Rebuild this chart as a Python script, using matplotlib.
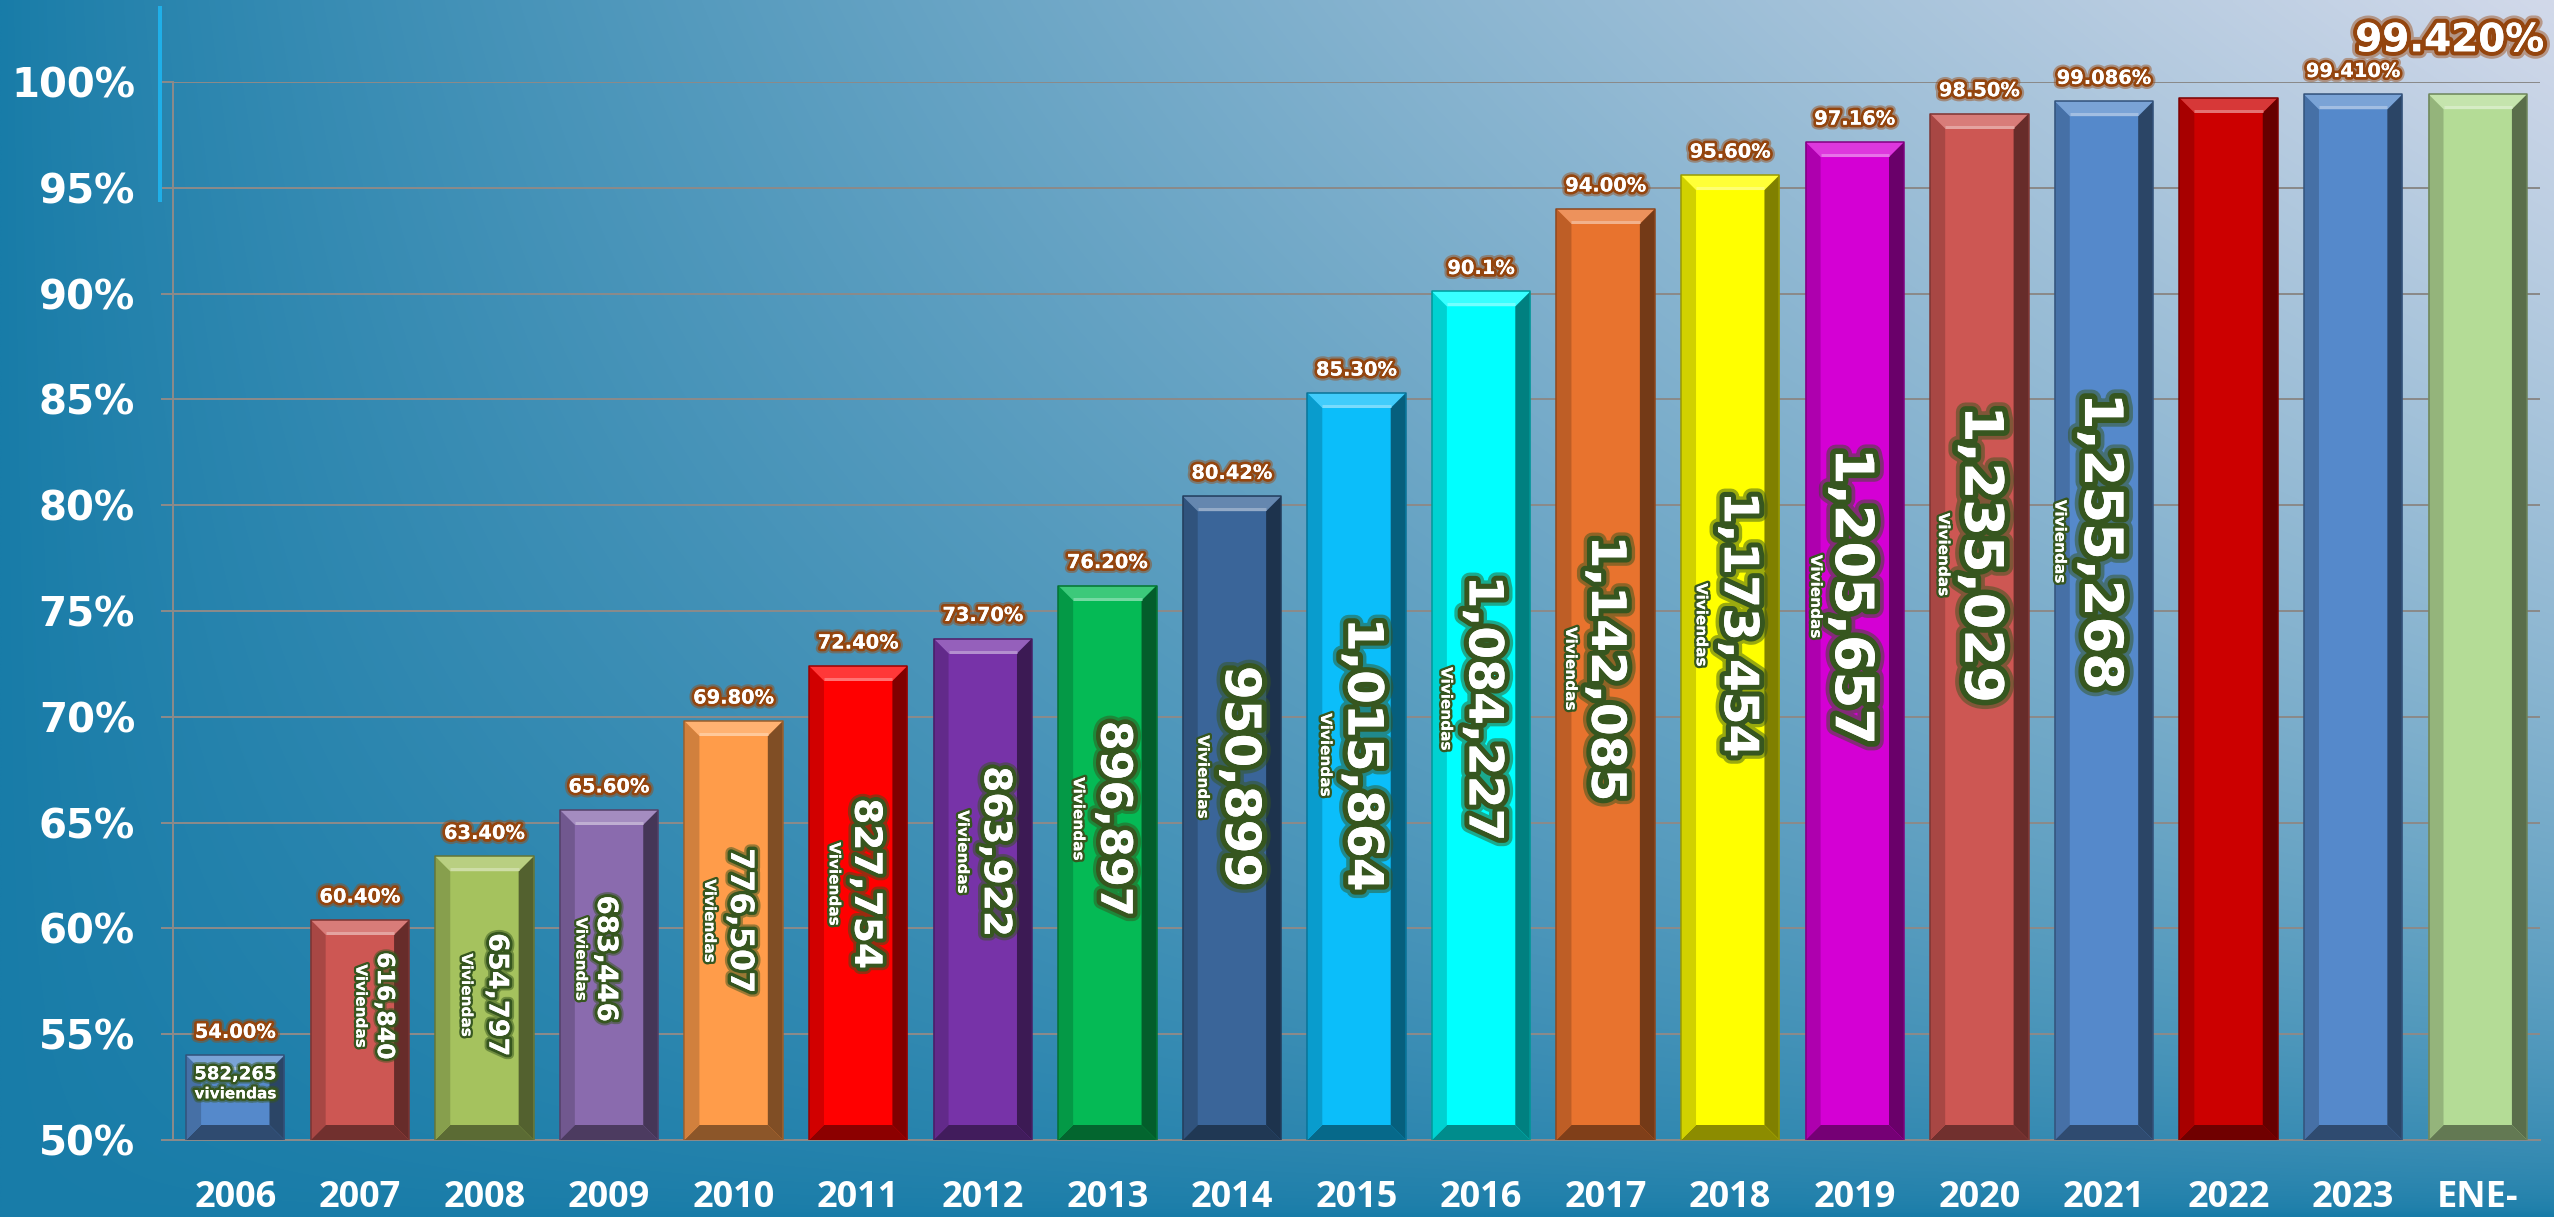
import numpy as np
import matplotlib
matplotlib.use('Agg')
import matplotlib.pyplot as plt
import matplotlib.patheffects as pe
from matplotlib.patches import Polygon
from matplotlib.lines import Line2D
from matplotlib.colors import to_rgb

# ---------------- data ----------------
categories = ['2006', '2007', '2008', '2009', '2010', '2011', '2012', '2013', '2014',
              '2015', '2016', '2017', '2018', '2019', '2020', '2021', '2022', '2023', 'ENE-']
coverage = [54.00, 60.40, 63.40, 65.60, 69.80, 72.40, 73.70, 76.20, 80.42,
            85.30, 90.10, 94.00, 95.60, 97.16, 98.50, 99.086, 99.25, 99.41, 99.42]
pct_labels = ['54.00%', '60.40%', '63.40%', '65.60%', '69.80%', '72.40%', '73.70%', '76.20%',
              '80.42%', '85.30%', '90.1%', '94.00%', '95.60%', '97.16%', '98.50%', '99.086%',
              '', '99.410%', '99.420%']
viviendas = [582265, 616840, 654797, 683446, 776507, 827754, 863922, 896897, 950899,
             1015864, 1084227, 1142085, 1173454, 1205657, 1235029, 1255268, None, None, None]
bar_colors = ['#5589CB', '#CD5753', '#A5C25E', '#8A6BAE', '#FF9C4A', '#FF0000', '#7733A8',
              '#05BA55', '#3A6599', '#0BBEFA', '#00FFFF', '#E8732E', '#FFFF00', '#D400D4',
              '#CD5753', '#5589CB', '#CC0000', '#5589CB', '#B4DC96']
yticks = [50, 55, 60, 65, 70, 75, 80, 85, 90, 95, 100]

# ---------------- layout of the inner labels ----------------
num_label_y = [None, 56.34, 56.86, 58.56, 60.36, 62.11, 63.62, 65.19, 67.17, 68.21,
               70.39, 72.28, 74.36, 75.69, 77.68, 78.29]
num_label_size = [13, 17, 19.5, 20, 23, 27, 27, 31, 35, 35, 34, 34, 34, 38, 38, 38]
num_label_dx = [0, 25, 12, -3, 6, 7, 12, 6, 8, 6, 1, -1, 7, -4, 1, -4]      # px
viv_gap = [0, 24, 30, 25, 30, 31, 32, 35, 37, 37, 36, 34, 36, 35, 37, 40]   # px

W, H, DPI = 2554, 1217, 100
PX = 72.0 / DPI
fig = plt.figure(figsize=(W / DPI, H / DPI), dpi=DPI)

# ---------------- background gradient ----------------
bg = fig.add_axes([0, 0, 1, 1], zorder=-10)
gx = np.linspace(0, 1, 640)
gy = np.linspace(0, 1, 320)
X, Y = np.meshgrid(gx, gy)
t = (X ** 0.85) * ((1 - Y) ** 0.6)
dark = np.array([24, 124, 168]) / 255.0
light = np.array([210, 217, 234]) / 255.0
img = dark[None, None, :] * (1 - t[..., None]) + light[None, None, :] * t[..., None]
bg.imshow(img, extent=[0, 1, 0, 1], aspect='auto', interpolation='bilinear', origin='upper')
bg.set_xlim(0, 1)
bg.set_ylim(0, 1)
bg.axis('off')

# decorative blue line at top left
fig.add_artist(Line2D([160 / W, 160 / W], [1 - 8 / H, 1 - 200 / H], color='#1FAFE8',
                      lw=4 * PX, transform=fig.transFigure))

# ---------------- main axes ----------------
left_px, right_px, top_px, bottom_px = 173, 2540, 82, 1140
ax = fig.add_axes([left_px / W, 1 - bottom_px / H, (right_px - left_px) / W,
                   (bottom_px - top_px) / H])
ax.set_facecolor('none')
n = len(categories)
ax.set_xlim(-0.5, n - 0.5)
ax.set_ylim(50, 100)
ax.set_axisbelow(True)

grid_col = '#8A8A8A'
ax.set_yticks(yticks)
ax.set_yticklabels([f'{v}%' for v in yticks], color='white', fontsize=29,
                   fontweight='bold', family='DejaVu Sans')
ax.yaxis.grid(True, color=grid_col, lw=2 * PX)
ax.tick_params(axis='y', length=12 * PX, width=2 * PX, color=grid_col, pad=26 * PX)
ax.set_xticks(range(n))
ax.set_xticklabels(categories, color='white', fontsize=26, fontweight='bold',
                   family='Open Sans')
ax.tick_params(axis='x', length=0, pad=40 * PX)
for s in ['top', 'right']:
    ax.spines[s].set_visible(False)
for s in ['left', 'bottom']:
    ax.spines[s].set_color(grid_col)
    ax.spines[s].set_linewidth(2 * PX)

bw = 0.79
bars = ax.bar(range(n), [v - 50 for v in coverage], bottom=50, width=bw,
              color=bar_colors, edgecolor='none', zorder=2)


def shade(c, f):
    r = np.array(to_rgb(c))
    if f >= 1:
        return tuple(r + (1 - r) * (f - 1))
    return tuple(r * f)


inv = ax.transData.inverted()
b = 15
for i, (v, c) in enumerate(zip(coverage, bar_colors)):
    X0, Y0 = ax.transData.transform((i - bw / 2, 50))
    X1, Y1 = ax.transData.transform((i + bw / 2, v))
    polys = [
        ([(X0, Y1), (X1, Y1), (X1 - b, Y1 - b), (X0 + b, Y1 - b)], shade(c, 1.22)),
        ([(X0, Y0), (X1, Y0), (X1 - b, Y0 + b), (X0 + b, Y0 + b)], shade(c, 0.55)),
        ([(X0, Y0), (X0 + b, Y0 + b), (X0 + b, Y1 - b), (X0, Y1)], shade(c, 0.82)),
        ([(X1, Y0), (X1 - b, Y0 + b), (X1 - b, Y1 - b), (X1, Y1)], shade(c, 0.5)),
    ]
    for pts, col in polys:
        ax.add_patch(Polygon(inv.transform(pts), closed=True, facecolor=col,
                             edgecolor='none', zorder=3))
    hl = inv.transform([(X0 + b, Y1 - b + 2), (X1 - b, Y1 - b + 2)])
    ax.plot(hl[:, 0], hl[:, 1], color=shade(c, 1.45), lw=3 * PX, zorder=3.5,
            solid_capstyle='butt')
    outline = inv.transform([(X0, Y0), (X0, Y1), (X1, Y1), (X1, Y0)])
    ax.plot(outline[:, 0], outline[:, 1], color=shade(c, 0.6), lw=1.5 * PX, zorder=3.6)

# ---------------- percentage labels ----------------
brown_fx = [pe.withStroke(linewidth=7, foreground='#9A4A12', alpha=0.45),
            pe.withStroke(linewidth=4, foreground='#94450E'), pe.Normal()]
for i, (v, lab) in enumerate(zip(coverage, pct_labels)):
    if not lab:
        continue
    if i == n - 1:
        ax.annotate(lab, xy=(i, v), xytext=(-28 * PX, 54 * PX), textcoords='offset points',
                    ha='center', va='center', fontsize=28, fontweight='bold', color='white',
                    family='DejaVu Sans', annotation_clip=False,
                    path_effects=[pe.withStroke(linewidth=10, foreground='#9A4A12', alpha=0.45),
                                  pe.withStroke(linewidth=6, foreground='#94450E'),
                                  pe.Normal()], zorder=6)
    else:
        ax.annotate(lab, xy=(i, v), xytext=(0, 23 * PX), textcoords='offset points',
                    ha='center', va='center', fontsize=14, fontweight='bold', color='white',
                    family='DejaVu Sans', annotation_clip=False, path_effects=brown_fx,
                    zorder=6)

# ---------------- viviendas labels ----------------
green = '#36561F'
for i, val in enumerate(viviendas):
    if val is None:
        continue
    txt = f'{val:,}'
    if i == 0:
        fx = [pe.withStroke(linewidth=6, foreground=green, alpha=0.5),
              pe.withStroke(linewidth=3.5, foreground=green), pe.Normal()]
        ax.annotate(txt, xy=(i, coverage[i]), xytext=(0, -10 * PX), textcoords='offset points',
                    ha='center', va='top', fontsize=13, fontweight='bold', color='white',
                    family='DejaVu Sans', path_effects=fx, zorder=6)
        ax.annotate('viviendas', xy=(i, coverage[i]), xytext=(0, -31 * PX),
                    textcoords='offset points', ha='center', va='top', fontsize=11,
                    fontweight='bold', color='white', family='DejaVu Sans',
                    path_effects=fx, zorder=6)
        continue
    fs = num_label_size[i]
    fx = [pe.withStroke(linewidth=fs * 0.36, foreground=green, alpha=0.5),
          pe.withStroke(linewidth=fs * 0.22, foreground=green), pe.Normal()]
    ax.annotate(txt, xy=(i, num_label_y[i]), xytext=(num_label_dx[i] * PX, 0),
                textcoords='offset points', ha='center', va='center', rotation=-90,
                fontsize=fs, fontweight='bold', color='white', family='DejaVu Sans',
                path_effects=fx, zorder=6)
    vfx = [pe.withStroke(linewidth=3.5, foreground=green), pe.Normal()]
    ax.annotate('Viviendas', xy=(i, num_label_y[i]),
                xytext=((num_label_dx[i] - viv_gap[i]) * PX, 0),
                textcoords='offset points', ha='center', va='center', rotation=-90,
                fontsize=11, fontweight='bold', color='white', family='DejaVu Sans',
                path_effects=vfx, zorder=6)

fig.savefig('out.png', dpi=DPI)
